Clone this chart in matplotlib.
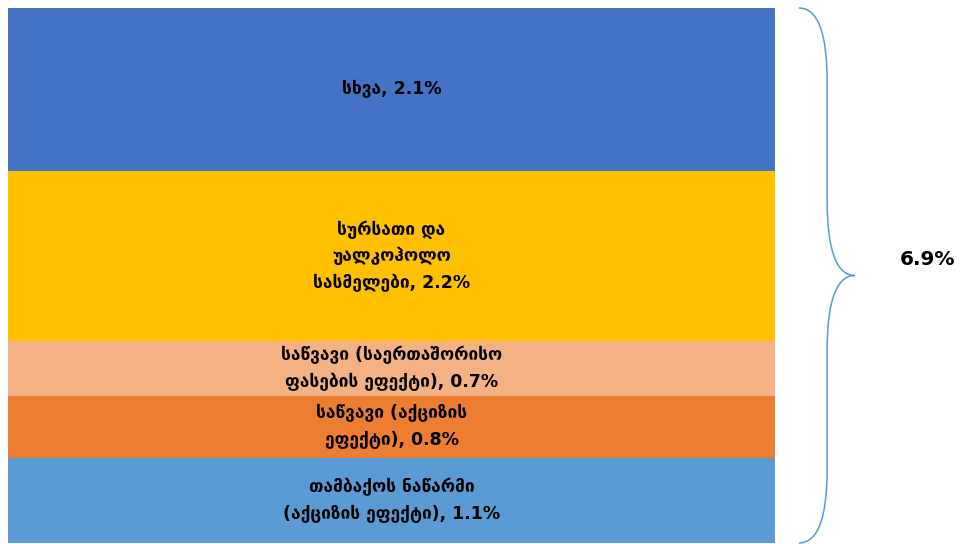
import matplotlib.pyplot as plt
import matplotlib.transforms as mtransforms
from matplotlib.path import Path
from matplotlib.patches import PathPatch

# segments, bottom to top
labels = [
    "თამბაქოს ნაწარმი\n(აქციზის ეფექტი), 1.1%",
    "საწვავი (აქციზის\nეფექტი), 0.8%",
    "საწვავი (საერთაშორისო\nფასების ეფექტი), 0.7%",
    "სურსათი და\nუალკოჰოლო\nსასმელები, 2.2%",
    "სხვა, 2.1%",
]
values = [1.1, 0.8, 0.7, 2.2, 2.1]
colors = ["#5B9BD5", "#ED7D31", "#F4B183", "#FFC000", "#4472C4"]
total_label = "6.9%"

plt.rcParams['font.family'] = ['DejaVu Sans']

fig = plt.figure(figsize=(9.63, 5.44), dpi=100)
ax = fig.add_axes([8 / 963, 1 / 544, 767 / 963, 535 / 544])

bottom = 0
for lab, v, c in zip(labels, values, colors):
    ax.bar(0, v, bottom=bottom, width=1, color=c, edgecolor='none')
    ax.text(0, bottom + v / 2, lab, ha='center', va='center',
            fontsize=12.5, fontweight='bold', linespacing=1.6, color='black')
    bottom += v
total = bottom

ax.set_xlim(-0.5, 0.5)
ax.set_ylim(0, total)
ax.axis('off')

# curly brace to the right of the bar
tr = mtransforms.blended_transform_factory(ax.transAxes, ax.transData)
x0, xm, xt = 1.031, 1.068, 1.104
mid = total / 2
k = total / 535.0  # data units per pixel
verts = [
    (x0, total),
    (x0 + 0.025, total), (xm, total - 25 * k), (xm, total - 75 * k),
    (xm, mid + 75 * k),
    (xm, mid + 20 * k), (xm + 0.015, mid), (xt, mid),
    (xm + 0.015, mid), (xm, mid - 20 * k), (xm, mid - 75 * k),
    (xm, 75 * k),
    (xm, 25 * k), (x0 + 0.025, 0), (x0, 0),
]
codes = [Path.MOVETO,
         Path.CURVE4, Path.CURVE4, Path.CURVE4,
         Path.LINETO,
         Path.CURVE4, Path.CURVE4, Path.CURVE4,
         Path.CURVE4, Path.CURVE4, Path.CURVE4,
         Path.LINETO,
         Path.CURVE4, Path.CURVE4, Path.CURVE4]
brace = PathPatch(Path(verts, codes), transform=tr, fill=False,
                  edgecolor="#5B9BD5", linewidth=1.1, clip_on=False)
ax.add_patch(brace)

ax.text(1.199, mid + 16 * k, total_label, transform=tr, ha='center', va='center',
        fontsize=14.5, fontweight='bold', color='black')

fig.savefig('out.png', dpi=100)
